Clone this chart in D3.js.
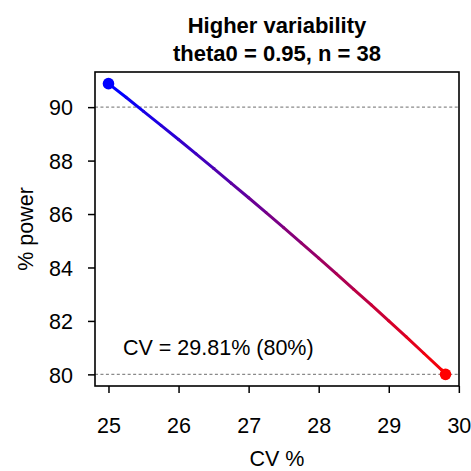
<!DOCTYPE html>
<html>
<head>
<meta charset="utf-8">
<script src="https://cdn.jsdelivr.net/npm/d3@7"></script>
<style>
  html, body { margin: 0; padding: 0; background: #fff; }
  svg text { font-family: "Liberation Sans", Arial, Helvetica, sans-serif; fill: #000; }
</style>
</head>
<body>
<svg id="chart" width="471" height="471"></svg>
<script>
// Power (%) of the study as the coefficient of variation increases
const cvValues = [25.00, 25.25, 25.50, 25.75, 26.00, 26.25, 26.50, 26.75, 27.00, 27.25,
                  27.50, 27.75, 28.00, 28.25, 28.50, 28.75, 29.00, 29.25, 29.50, 29.75, 29.81];
const powerValues = [90.88, 90.37, 89.84, 89.32, 88.79, 88.25, 87.71, 87.16, 86.61, 86.05,
                     85.49, 84.92, 84.35, 83.77, 83.18, 82.60, 82.00, 81.40, 80.79, 80.18, 80.00];
const xTicks = [25, 26, 27, 28, 29, 30];
const yTicks = [80, 82, 84, 86, 88, 90];
const refLines = [90, 80];
const titleLines = ["Higher variability", "theta0 = 0.95, n = 38"];
const xLabel = "CV %";
const yLabel = "% power";
const noteText = "CV = 29.81% (80%)";

const svg = d3.select("#chart");
const box = { left: 95, right: 459, top: 72, bottom: 386 };

// R-style 4% padding around the data range
const xMin = d3.min(cvValues), xMax = d3.max(cvValues);
const yMin = d3.min(powerValues), yMax = d3.max(powerValues);
const xPad = (xMax - xMin) * 0.04, yPad = (yMax - yMin) * 0.04;

const x = d3.scaleLinear().domain([xMin - xPad, xMax + xPad]).range([box.left, box.right]);
const y = d3.scaleLinear().domain([yMin - yPad, yMax + yPad]).range([box.bottom, box.top]);

const fontSize = 21.5;

// dotted reference lines
svg.selectAll("line.ref").data(refLines).join("line")
  .attr("class", "ref")
  .attr("x1", box.left).attr("x2", box.right)
  .attr("y1", d => y(d)).attr("y2", d => y(d))
  .attr("stroke", "#8a8a8a").attr("stroke-width", 1.3)
  .attr("stroke-dasharray", "3,2.45");

// line coloured from blue to red along the curve
const pts = cvValues.map((c, i) => [c, powerValues[i]]);
const colour = d3.interpolateRgb("blue", "red");
const segs = d3.pairs(pts);
svg.append("g").selectAll("line").data(segs).join("line")
  .attr("x1", d => x(d[0][0])).attr("y1", d => y(d[0][1]))
  .attr("x2", d => x(d[1][0])).attr("y2", d => y(d[1][1]))
  .attr("stroke", (d, i) => colour(i / (segs.length - 1)))
  .attr("stroke-width", 3)
  .attr("stroke-linecap", "round");

// end points
const ends = [pts[0], pts[pts.length - 1]];
svg.selectAll("circle.end").data(ends).join("circle")
  .attr("class", "end")
  .attr("cx", d => x(d[0])).attr("cy", d => y(d[1]))
  .attr("r", 5.8)
  .attr("fill", (d, i) => i === 0 ? "blue" : "red");

// frame
svg.append("rect")
  .attr("x", box.left).attr("y", box.top)
  .attr("width", box.right - box.left).attr("height", box.bottom - box.top)
  .attr("fill", "none").attr("stroke", "#000").attr("stroke-width", 1.6);

// axes
const xAxis = d3.axisBottom(x).tickValues(xTicks).tickSize(7).tickPadding(25).tickFormat(d3.format("d"));
const yAxis = d3.axisLeft(y).tickValues(yTicks).tickSize(7).tickPadding(15).tickFormat(d3.format("d"));

const gx = svg.append("g").attr("transform", `translate(0,${box.bottom})`).call(xAxis);
const gy = svg.append("g").attr("transform", `translate(${box.left},0)`).call(yAxis);
[gx, gy].forEach(g => {
  g.select(".domain").remove();
  g.selectAll(".tick line").attr("stroke", "#000").attr("stroke-width", 1.5);
  g.selectAll(".tick text").attr("font-size", fontSize)
    .attr("font-family", "'Liberation Sans', Arial, sans-serif");
});
gx.selectAll(".tick text").attr("dy", null).attr("y", 47);
gy.selectAll(".tick text").attr("dy", "0.36em");

// titles
const cx = (box.left + box.right) / 2;
svg.selectAll("text.title").data(titleLines).join("text")
  .attr("class", "title")
  .attr("x", cx).attr("y", (d, i) => 33 + i * 28)
  .attr("text-anchor", "middle")
  .attr("font-weight", "bold")
  .attr("font-size", 22)
  .text(d => d);

svg.append("text")
  .attr("x", cx).attr("y", 466)
  .attr("text-anchor", "middle")
  .attr("font-size", fontSize)
  .text(xLabel);

svg.append("text")
  .attr("transform", `translate(33,${(box.top + box.bottom) / 2}) rotate(-90)`)
  .attr("text-anchor", "middle")
  .attr("font-size", fontSize)
  .text(yLabel);

svg.append("text")
  .attr("x", 123).attr("y", 355)
  .attr("font-size", fontSize)
  .text(noteText);
</script>
</body>
</html>
